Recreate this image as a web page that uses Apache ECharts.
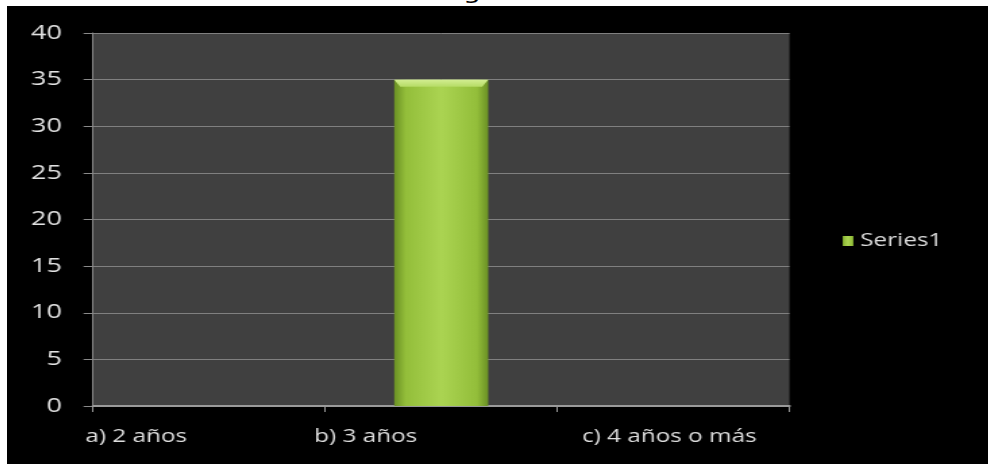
<!DOCTYPE html>
<html>
<head>
<meta charset="utf-8">
<script src="https://cdn.jsdelivr.net/npm/echarts@6/dist/echarts.min.js"></script>
<style>
  html, body { margin: 0; padding: 0; background: #ffffff; overflow: hidden; }
  body { width: 989px; height: 464px; position: relative; }
  #title {
    position: absolute; left: 463px; top: -19px;
    font-family: 'DejaVu Sans', sans-serif; font-size: 21px; line-height: 22px;
    color: #000; transform-origin: 0 0; transform: scaleX(1.35);
  }
  #chart {
    position: absolute; left: 7px; top: 6px;
    width: 727.4px; height: 458px;
    transform-origin: 0 0; transform: scaleX(1.35);
  }
</style>
</head>
<body>
<div id="title">g</div>
<div id="chart"></div>
<script>
// Survey answers per category
const categories = ['a) 2 años', 'b) 3 años', 'c) 4 años o más'];
const seriesName = 'Series1';
const values = [0, 35, 0];
// Value axis ticks
const yTicks = [0, 5, 10, 15, 20, 25, 30, 35, 40];

// Horizontal stretch applied to the whole chart via CSS
const SX = 1.35;

// Shift of each category label (px, unstretched); negative moves it left
const labelShift = [-54, -56, -3];

const barGradient = new echarts.graphic.LinearGradient(0, 0, 1, 0, [
  { offset: 0, color: '#6a9024' },
  { offset: 0.12, color: '#93be3a' },
  { offset: 0.5, color: '#abd452' },
  { offset: 0.88, color: '#93be3a' },
  { offset: 1, color: '#6a9024' }
]);

const chart = echarts.init(document.getElementById('chart'));

const rich = {};
labelShift.forEach((s, i) => {
  const pad = Math.abs(s) * 2;
  rich['c' + i] = {
    fontFamily: 'Open Sans', fontSize: 18, color: '#dedede',
    padding: s < 0 ? [0, pad, 0, 0] : [0, 0, 0, pad]
  };
});

chart.setOption({
  backgroundColor: '#000000',
  animation: false,
  grid: {
    left: 63.7, right: 147.4, top: 27, bottom: 58,
    show: true, backgroundColor: '#404040', borderWidth: 0
  },
  legend: {
    data: [seriesName],
    orient: 'vertical',
    left: 619, top: 226,
    padding: 0,
    icon: 'rect',
    itemWidth: 8, itemHeight: 10,
    textStyle: { fontFamily: 'Open Sans', fontSize: 18, color: '#dedede' }
  },
  xAxis: {
    type: 'category',
    data: categories,
    boundaryGap: true,
    axisLine: { lineStyle: { color: '#9a9a9a', width: 2 } },
    axisTick: { show: true, length: 6, lineStyle: { color: '#9a9a9a', width: 1 } },
    axisLabel: {
      interval: 0, margin: 22,
      formatter: (v, i) => '{c' + i + '|' + v + '}',
      rich: rich
    },
    splitLine: { show: false }
  },
  yAxis: {
    type: 'value',
    min: yTicks[0],
    max: yTicks[yTicks.length - 1],
    interval: yTicks[1] - yTicks[0],
    axisLine: { show: true, lineStyle: { color: '#8a8a8a', width: 1 } },
    axisTick: { show: true, length: 7, lineStyle: { color: '#8a8a8a' } },
    axisLabel: { margin: 23, fontFamily: 'Open Sans', fontSize: 20, color: '#e2e2e2' },
    splitLine: { lineStyle: { color: '#808080', width: 1 } }
  },
  series: [
    {
      name: seriesName,
      type: 'bar',
      data: values,
      barWidth: '40.5%',
      itemStyle: { color: barGradient }
    },
    {
      // bevel on the top face of each bar
      type: 'custom',
      silent: true,
      data: values.map((v, i) => [i, v]),
      encode: { x: 0, y: 1 },
      z: 3,
      renderItem: function (params, api) {
        const v = api.value(1);
        if (!v) return null;
        const top = api.coord([api.value(0), v]);
        const bw = api.size([1, 0])[0] * 0.405;
        const x0 = top[0] - bw / 2, x1 = top[0] + bw / 2, y = top[1];
        const bx = 6 / SX, bh = 7;
        return {
          type: 'polygon',
          shape: { points: [[x0, y], [x1, y], [x1 - bx, y + bh], [x0 + bx, y + bh]] },
          style: {
            fill: new echarts.graphic.LinearGradient(0, 0, 0, 1, [
              { offset: 0, color: '#d3ee92' },
              { offset: 1, color: '#b6dc66' }
            ])
          }
        };
      }
    }
  ]
});
</script>
</body>
</html>
